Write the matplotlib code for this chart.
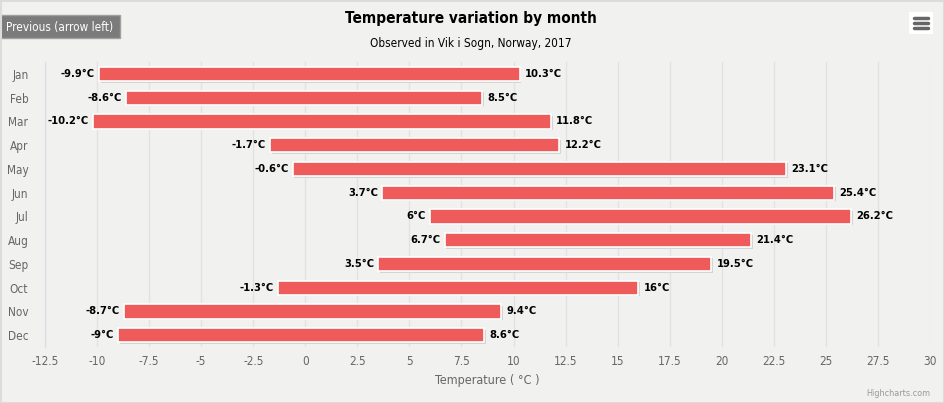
import numpy as np
import matplotlib.pyplot as plt
from matplotlib.patches import Rectangle

months = ['Jan', 'Feb', 'Mar', 'Apr', 'May', 'Jun',
          'Jul', 'Aug', 'Sep', 'Oct', 'Nov', 'Dec']
t_min = [-9.9, -8.6, -10.2, -1.7, -0.6, 3.7, 6.0, 6.7, 3.5, -1.3, -8.7, -9.0]
t_max = [10.3, 8.5, 11.8, 12.2, 23.1, 25.4, 26.2, 21.4, 19.5, 16.0, 9.4, 8.6]
x_ticks = np.arange(-12.5, 30.01, 2.5)

plt.rcParams['font.family'] = ['DejaVu Sans']
plt.rcParams['font.stretch'] = 'condensed'

W, H = 944, 403
fig = plt.figure(figsize=(W / 100, H / 100), dpi=100)
fig.patch.set_facecolor('#f1f1ef')

# plot area in pixels
left, right, top, bottom = 45, 930, 62, 347
ax = fig.add_axes([left / W, 1 - bottom / H, (right - left) / W, (bottom - top) / H])
ax.set_facecolor('none')

y = np.arange(len(months))
# soft shadow under bars
ax.barh(y + 0.07, np.array(t_max) - np.array(t_min), left=np.array(t_min) + 0.08, height=0.6,
        color='#d4d4d2', edgecolor='none', zorder=2)
ax.barh(y, np.array(t_max) - np.array(t_min), left=t_min, height=0.6,
        color='#ef5b5b', edgecolor='white', linewidth=1.2, zorder=3)

for i in range(len(months)):
    ax.text(t_min[i] - 0.2, y[i], '%g°C' % t_min[i], ha='right', va='center',
            fontsize=8, fontweight='bold', color='black', zorder=4)
    ax.text(t_max[i] + 0.25, y[i], '%g°C' % t_max[i], ha='left', va='center',
            fontsize=8, fontweight='bold', color='black', zorder=4)

ax.set_xlim(-12.5, 30)
ax.set_ylim(len(months) - 0.5, -0.5)
ax.set_xticks(x_ticks)
ax.set_xticklabels(['%g' % v for v in x_ticks])
ax.set_yticks(y)
ax.set_yticklabels(months)
ax.tick_params(axis='both', length=0, colors='#666666', labelsize=8.5)
ax.tick_params(axis='y', pad=12)
ax.tick_params(axis='x', pad=6)
ax.grid(axis='x', color='#e2e2e2', linewidth=1, zorder=0)
ax.set_axisbelow(True)
for s in ['top', 'right', 'bottom']:
    ax.spines[s].set_visible(False)
ax.spines['left'].set_color('#d8dde8')
ax.set_xlabel('Temperature ( °C )', color='#666666', fontsize=9, labelpad=4)

fig.text(471 / W, 1 - 19 / H, 'Temperature variation by month', ha='center',
         va='center', fontsize=11, fontweight='bold', color='black')
fig.text(471 / W, 1 - 43 / H, 'Observed in Vik i Sogn, Norway, 2017', ha='center',
         va='center', fontsize=8.5, color='black')
fig.text(930 / W, 1 - 394 / H, 'Highcharts.com', ha='right', va='center',
         fontsize=6.5, color='#999999')

# back button
fig.patches.append(Rectangle((0, 1 - 38 / H), 120 / W, 23 / H, transform=fig.transFigure,
                             facecolor='#7b7b7b', edgecolor='#a0a0a0', linewidth=1))
fig.text(60 / W, 1 - 27 / H, 'Previous (arrow left)', ha='center', va='center',
         fontsize=8.5, color='white')

# menu icon
fig.patches.append(Rectangle((909 / W, 1 - 34 / H), 24 / W, 22 / H, transform=fig.transFigure,
                             facecolor='white', edgecolor='none'))
for yy in [18, 23, 28]:
    fig.lines.append(plt.Line2D([914 / W, 928 / W], [1 - yy / H, 1 - yy / H],
                                transform=fig.transFigure, color='#666666', linewidth=2.5,
                                solid_capstyle='round'))

# border
fig.patches.append(Rectangle((0.5 / W, 0.5 / H), 1 - 1 / W, 1 - 1 / H, transform=fig.transFigure,
                             facecolor='none', edgecolor='#dcdcdc', linewidth=1.5))

fig.savefig('out.png', dpi=100, facecolor=fig.get_facecolor())
